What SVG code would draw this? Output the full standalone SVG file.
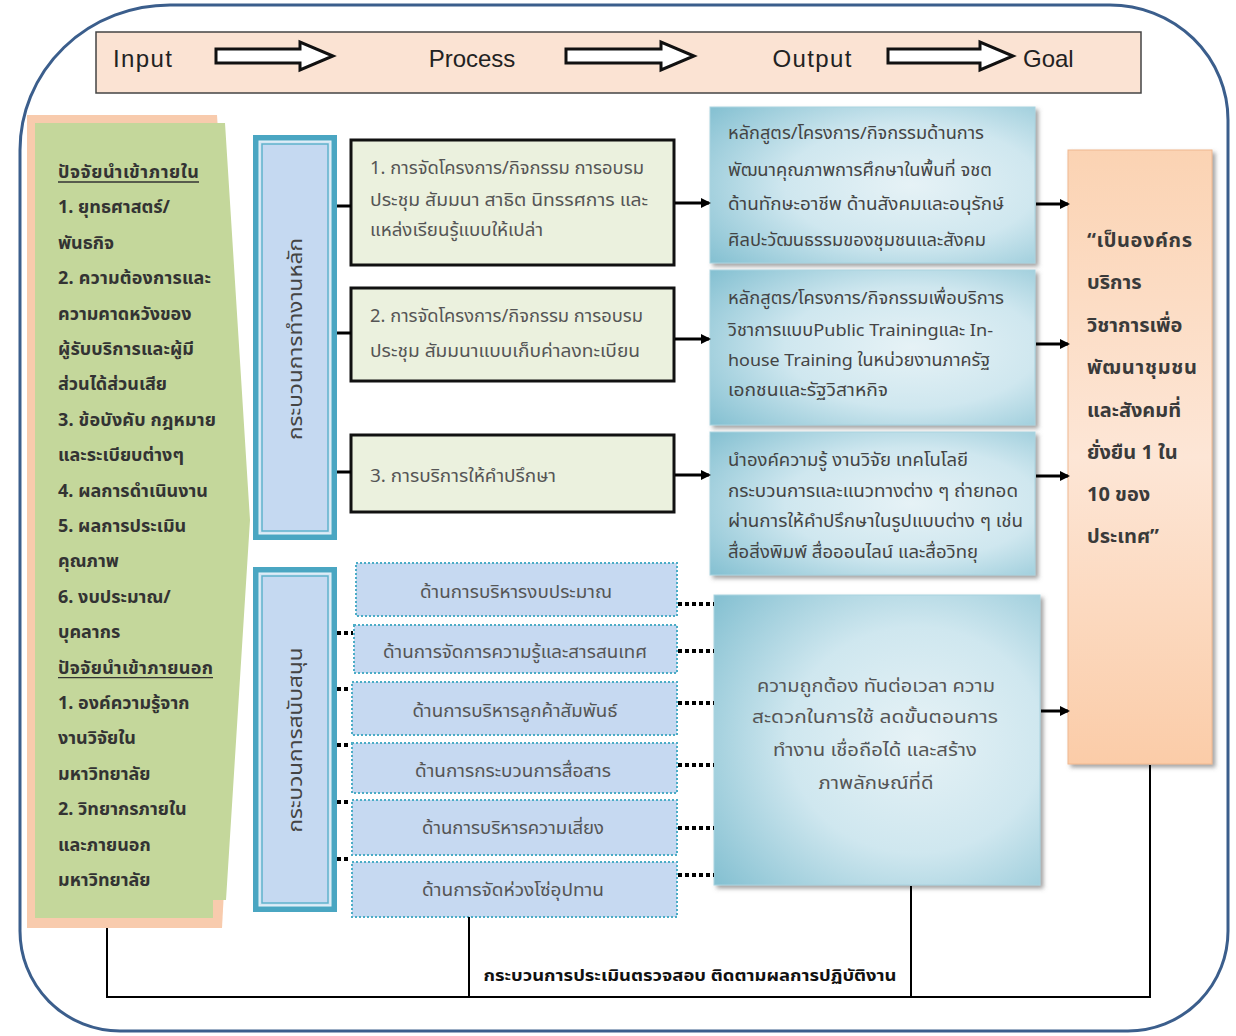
<svg xmlns="http://www.w3.org/2000/svg" width="1236" height="1036" viewBox="0 0 1236 1036">
<defs>
<style>
.th{font-family:Tahoma,"Leelawadee UI","Noto Sans Thai","DejaVu Sans",sans-serif}
.hd{font-family:"Liberation Sans",Arial,sans-serif;font-size:24px;fill:#222}
.gr{font-size:18px;font-weight:bold;fill:#333}
.pr{font-size:17.5px;fill:#555}
.op{font-size:17px;fill:#444}
.sp{font-size:17px;fill:#555;text-anchor:middle}
.vl{font-size:19px;fill:#444;text-anchor:middle;dominant-baseline:central}
.gl{font-size:20px;font-weight:bold;fill:#3a3a3a}
.ln{stroke:#000;stroke-width:3;fill:none}
.dt{stroke:#000;stroke-width:4;stroke-dasharray:4 3;fill:none}
.fb{stroke:#000;stroke-width:2;fill:none}
.blk{fill:#fff;stroke:#111;stroke-width:3}
.pbox{fill:#ebf1de;stroke:#111;stroke-width:3}
.sbox{fill:#c6d9f1;stroke:#4bacc6;stroke-width:2;stroke-dasharray:2 2}
</style>
<marker id="ah" markerWidth="10" markerHeight="10" refX="8" refY="5" orient="auto" markerUnits="userSpaceOnUse">
<path d="M0,0 L10,5 L0,10 Z" fill="#000"/>
</marker>
<radialGradient id="blu" cx="0.62" cy="0.5" r="0.78">
<stop offset="0" stop-color="#e6f2f6"/>
<stop offset="0.5" stop-color="#cfe7ef"/>
<stop offset="1" stop-color="#86c1d2"/>
</radialGradient>
<linearGradient id="pch" x1="0" y1="0" x2="0" y2="1">
<stop offset="0" stop-color="#fbd3b3"/>
<stop offset="0.5" stop-color="#fde6d6"/>
<stop offset="1" stop-color="#fbcca8"/>
</linearGradient>
<filter id="sh" x="-10%" y="-10%" width="120%" height="120%">
<feDropShadow dx="3" dy="3" stdDeviation="2" flood-color="#666" flood-opacity="0.6"/>
</filter>
</defs>
<rect width="1236" height="1036" fill="#fff"/>
<path d="M170,5 H1110 A118 115 0 0 1 1228 120 V930 A100 100 0 0 1 1128 1031 H120 A100 100 0 0 1 20 930 V150 A150 145 0 0 1 170 5 Z" fill="#fff" stroke="#3b5e8c" stroke-width="3"/>

<g id="header">
<rect x="96" y="32" width="1045" height="61" fill="#fbe3d3" stroke="#444" stroke-width="1.5"/>
<text class="hd" x="113" y="67" textLength="59">Input</text>
<text class="hd" x="472" y="67" text-anchor="middle">Process</text>
<text class="hd" x="812" y="67" text-anchor="middle" textLength="79">Output</text>
<text class="hd" x="1023" y="67">Goal</text>
<path class="blk" d="M216,49 H300 V42 L333,56 L300,70 V63 H216 Z"/>
<path class="blk" d="M566,49 H661 V42 L694,56 L661,70 V63 H566 Z"/>
<path class="blk" d="M888,49 H980 V42 L1013,56 L980,70 V63 H888 Z"/>
</g>

<g id="inputs">
<polygon points="27,115 217,115 244,520 222,928 27,928" fill="#f8cbad"/>
<polygon points="35,123 225,123 250,520 226,900 213,900 213,918 35,918" fill="#c4d79b"/>
<g class="th gr">
<text x="58" y="178" textLength="141">ปัจจัยนำเข้าภายใน</text>
<text x="58" y="213.4">1. ยุทธศาสตร์/</text>
<text x="58" y="248.8">พันธกิจ</text>
<text x="58" y="284.2" textLength="153">2. ความต้องการและ</text>
<text x="58" y="319.6">ความคาดหวังของ</text>
<text x="58" y="355" textLength="136">ผู้รับบริการและผู้มี</text>
<text x="58" y="390.4">ส่วนได้ส่วนเสีย</text>
<text x="58" y="425.8" textLength="158">3. ข้อบังคับ กฎหมาย</text>
<text x="58" y="461.2">และระเบียบต่างๆ</text>
<text x="58" y="496.6" textLength="150">4. ผลการดำเนินงาน</text>
<text x="58" y="532">5. ผลการประเมิน</text>
<text x="58" y="567.4">คุณภาพ</text>
<text x="58" y="602.8">6. งบประมาณ/</text>
<text x="58" y="638.2">บุคลากร</text>
<text x="58" y="673.6" textLength="155">ปัจจัยนำเข้าภายนอก</text>
<text x="58" y="709">1. องค์ความรู้จาก</text>
<text x="58" y="744.4">งานวิจัยใน</text>
<text x="58" y="779.8">มหาวิทยาลัย</text>
<text x="58" y="815.2">2. วิทยากรภายใน</text>
<text x="58" y="850.6">และภายนอก</text>
<text x="58" y="886">มหาวิทยาลัย</text>
</g>
<line x1="58" y1="182" x2="199" y2="182" stroke="#333" stroke-width="1.3"/>
<line x1="58" y1="677.6" x2="213" y2="677.6" stroke="#333" stroke-width="1.3"/>
</g>

<g id="main-process">
<rect x="253" y="135" width="84" height="405" fill="#4aa6c2"/>
<rect x="259" y="141" width="72" height="393" fill="#d4e6f4" stroke="#e8f4fa" stroke-width="1"/>
<rect x="262" y="144" width="66" height="387" fill="#c5d9f1" stroke="#5fb2cc" stroke-width="1.5"/>
<text class="th vl" transform="translate(296,339) rotate(-90)" textLength="202" lengthAdjust="spacingAndGlyphs">กระบวนการทำงานหลัก</text>
</g>

<g id="support-process">
<rect x="253" y="567" width="84" height="345" fill="#4aa6c2"/>
<rect x="259" y="573" width="72" height="333" fill="#d4e6f4" stroke="#e8f4fa" stroke-width="1"/>
<rect x="262" y="576" width="66" height="327" fill="#c5d9f1" stroke="#5fb2cc" stroke-width="1.5"/>
<text class="th vl" transform="translate(296,740) rotate(-90)" textLength="185" lengthAdjust="spacingAndGlyphs">กระบวนการสนับสนุน</text>
</g>

<g id="p1">
<rect class="pbox" x="351" y="140" width="323" height="125"/>
<g class="th pr">
<text x="370" y="174" textLength="274" lengthAdjust="spacingAndGlyphs">1. การจัดโครงการ/กิจกรรม การอบรม</text>
<text x="370" y="206" textLength="278" lengthAdjust="spacingAndGlyphs">ประชุม สัมมนา สาธิต นิทรรศการ และ</text>
<text x="370" y="236" textLength="173" lengthAdjust="spacingAndGlyphs">แหล่งเรียนรู้แบบให้เปล่า</text>
</g>
</g>
<g id="p2">
<rect class="pbox" x="351" y="288" width="323" height="93"/>
<g class="th pr">
<text x="370" y="322" textLength="273" lengthAdjust="spacingAndGlyphs">2. การจัดโครงการ/กิจกรรม การอบรม</text>
<text x="370" y="357" textLength="270" lengthAdjust="spacingAndGlyphs">ประชุม สัมมนาแบบเก็บค่าลงทะเบียน</text>
</g>
</g>
<g id="p3">
<rect class="pbox" x="351" y="435" width="323" height="77"/>
<text class="th pr" x="370" y="482" textLength="186" lengthAdjust="spacingAndGlyphs">3. การบริการให้คำปรึกษา</text>
</g>

<g id="o1">
<rect x="710" y="107" width="325" height="156" fill="url(#blu)" stroke="#a9d3df" stroke-width="1" filter="url(#sh)"/>
<g class="th op">
<text x="728" y="139" textLength="256" lengthAdjust="spacingAndGlyphs">หลักสูตร/โครงการ/กิจกรรมด้านการ</text>
<text x="728" y="176" textLength="264" lengthAdjust="spacingAndGlyphs">พัฒนาคุณภาพการศึกษาในพื้นที่ จชต</text>
<text x="728" y="210" textLength="276" lengthAdjust="spacingAndGlyphs">ด้านทักษะอาชีพ ด้านสังคมและอนุรักษ์</text>
<text x="728" y="246" textLength="258" lengthAdjust="spacingAndGlyphs">ศิลปะวัฒนธรรมของชุมชนและสังคม</text>
</g>
</g>
<g id="o2">
<rect x="710" y="270" width="325" height="155" fill="url(#blu)" stroke="#a9d3df" stroke-width="1" filter="url(#sh)"/>
<g class="th op">
<text x="728" y="304" textLength="276" lengthAdjust="spacingAndGlyphs">หลักสูตร/โครงการ/กิจกรรมเพื่อบริการ</text>
<text x="728" y="336" textLength="265" lengthAdjust="spacingAndGlyphs">วิชาการแบบPublic Trainingและ In-</text>
<text x="728" y="366" textLength="262" lengthAdjust="spacingAndGlyphs">house Training ในหน่วยงานภาครัฐ</text>
<text x="728" y="396" textLength="160" lengthAdjust="spacingAndGlyphs">เอกชนและรัฐวิสาหกิจ</text>
</g>
</g>
<g id="o3">
<rect x="710" y="432" width="325" height="143" fill="url(#blu)" stroke="#a9d3df" stroke-width="1" filter="url(#sh)"/>
<g class="th op">
<text x="728" y="466" textLength="240" lengthAdjust="spacingAndGlyphs">นำองค์ความรู้ งานวิจัย เทคโนโลยี</text>
<text x="728" y="497" textLength="290" lengthAdjust="spacingAndGlyphs">กระบวนการและแนวทางต่าง ๆ ถ่ายทอด</text>
<text x="728" y="527" textLength="295" lengthAdjust="spacingAndGlyphs">ผ่านการให้คำปรึกษาในรูปแบบต่าง ๆ เช่น</text>
<text x="728" y="558" textLength="250" lengthAdjust="spacingAndGlyphs">สื่อสิ่งพิมพ์ สื่อออนไลน์ และสื่อวิทยุ</text>
</g>
</g>

<g id="s1"><rect class="sbox" x="356" y="563" width="321" height="53"/><text class="th sp" x="516" y="598" textLength="192" lengthAdjust="spacingAndGlyphs">ด้านการบริหารงบประมาณ</text></g>
<g id="s2"><rect class="sbox" x="354" y="625" width="323" height="48"/><text class="th sp" x="515" y="658" textLength="264" lengthAdjust="spacingAndGlyphs">ด้านการจัดการความรู้และสารสนเทศ</text></g>
<g id="s3"><rect class="sbox" x="352" y="682" width="325" height="53"/><text class="th sp" x="515" y="717" textLength="205" lengthAdjust="spacingAndGlyphs">ด้านการบริหารลูกค้าสัมพันธ์</text></g>
<g id="s4"><rect class="sbox" x="352" y="743" width="325" height="50"/><text class="th sp" x="513" y="777" textLength="196" lengthAdjust="spacingAndGlyphs">ด้านการกระบวนการสื่อสาร</text></g>
<g id="s5"><rect class="sbox" x="352" y="800" width="325" height="55"/><text class="th sp" x="513" y="834" textLength="182" lengthAdjust="spacingAndGlyphs">ด้านการบริหารความเสี่ยง</text></g>
<g id="s6"><rect class="sbox" x="352" y="862" width="325" height="55"/><text class="th sp" x="513" y="896" textLength="182" lengthAdjust="spacingAndGlyphs">ด้านการจัดห่วงโซ่อุปทาน</text></g>

<g id="quality">
<rect x="714" y="595" width="326" height="290" fill="url(#blu)" stroke="#a9d3df" stroke-width="1" filter="url(#sh)"/>
<g class="th sp" style="font-size:17.5px">
<text x="876" y="692" textLength="238" lengthAdjust="spacingAndGlyphs">ความถูกต้อง ทันต่อเวลา ความ</text>
<text x="875" y="723" textLength="246" lengthAdjust="spacingAndGlyphs">สะดวกในการใช้  ลดขั้นตอนการ</text>
<text x="875" y="756" textLength="204" lengthAdjust="spacingAndGlyphs">ทำงาน เชื่อถือได้ และสร้าง</text>
<text x="876" y="789" textLength="115" lengthAdjust="spacingAndGlyphs">ภาพลักษณ์ที่ดี</text>
</g>
</g>

<g id="goal">
<rect x="1068" y="150" width="144" height="614" fill="url(#pch)" stroke="#f0b890" stroke-width="1" filter="url(#sh)"/>
<g class="th gl">
<text x="1087" y="247" textLength="105">“เป็นองค์กร</text>
<text x="1087" y="289">บริการ</text>
<text x="1087" y="332">วิชาการเพื่อ</text>
<text x="1087" y="374" textLength="110">พัฒนาชุมชน</text>
<text x="1087" y="417">และสังคมที่</text>
<text x="1087" y="459">ยั่งยืน 1 ใน</text>
<text x="1087" y="501">10 ของ</text>
<text x="1087" y="543">ประเทศ”</text>
</g>
</g>

<g id="connectors">
<line class="ln" x1="337" y1="206" x2="351" y2="206"/>
<line class="ln" x1="337" y1="333" x2="351" y2="333"/>
<line class="ln" x1="337" y1="472" x2="351" y2="472"/>
<line class="ln" x1="675" y1="203" x2="709" y2="203" marker-end="url(#ah)"/>
<line class="ln" x1="675" y1="339" x2="709" y2="339" marker-end="url(#ah)"/>
<line class="ln" x1="675" y1="475" x2="709" y2="475" marker-end="url(#ah)"/>
<line class="ln" x1="1036" y1="204" x2="1068" y2="204" marker-end="url(#ah)"/>
<line class="ln" x1="1036" y1="344" x2="1068" y2="344" marker-end="url(#ah)"/>
<line class="ln" x1="1036" y1="476" x2="1068" y2="476" marker-end="url(#ah)"/>
<line class="ln" x1="1041" y1="711" x2="1068" y2="711" marker-end="url(#ah)"/>
<line class="dt" x1="337" y1="633" x2="353" y2="633"/>
<line class="dt" x1="337" y1="689" x2="351" y2="689"/>
<line class="dt" x1="337" y1="745" x2="351" y2="745"/>
<line class="dt" x1="337" y1="802" x2="351" y2="802"/>
<line class="dt" x1="337" y1="859" x2="351" y2="859"/>
<line class="dt" x1="678" y1="604" x2="714" y2="604"/>
<line class="dt" x1="678" y1="651" x2="714" y2="651"/>
<line class="dt" x1="678" y1="703" x2="714" y2="703"/>
<line class="dt" x1="678" y1="765" x2="714" y2="765"/>
<line class="dt" x1="678" y1="828" x2="714" y2="828"/>
<line class="dt" x1="678" y1="875" x2="714" y2="875"/>
<polyline class="fb" points="107,928 107,997 1150,997 1150,765"/>
<line class="fb" x1="469" y1="917" x2="469" y2="997"/>
<line class="fb" x1="911" y1="886" x2="911" y2="997"/>
<text class="th" x="690" y="981" text-anchor="middle" textLength="413" lengthAdjust="spacingAndGlyphs" style="font-size:16px;font-weight:bold;fill:#111">กระบวนการประเมินตรวจสอบ ติดตามผลการปฏิบัติงาน</text>
</g>
</svg>
